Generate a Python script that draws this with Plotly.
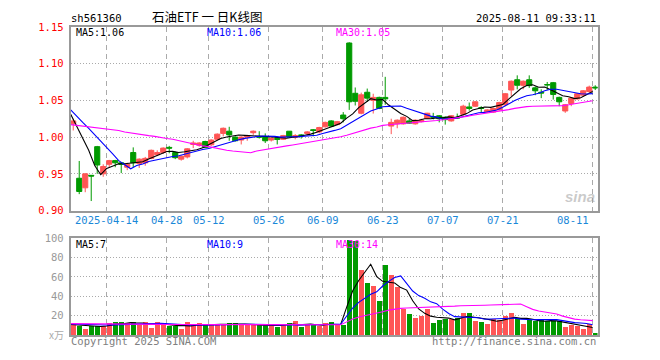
import plotly.graph_objects as go
import pandas as pd

# ---------------- data ----------------
opens = [1.018, 0.944, 0.931, 0.948, 0.987, 0.950, 0.963, 0.968, 0.965, 0.959,
         0.979, 0.964, 0.965, 0.971, 0.976, 0.979, 0.986, 0.979, 0.970, 0.973,
         0.990, 0.989, 0.994, 0.9895, 0.997, 1.005, 1.008, 1.000, 0.996, 1.000,
         1.006, 1.0005, 1.000, 0.996, 0.998, 0.997, 1.008, 1.000, 1.003, 1.005,
         1.010, 1.007, 1.014, 1.022, 1.017, 1.030, 1.128, 1.0596, 1.0325, 1.061,
         1.050, 1.054, 1.054, 1.015, 1.018, 1.018, 1.022, 1.018, 1.021, 1.0255,
         1.028, 1.029, 1.027, 1.022, 1.027, 1.031, 1.041, 1.042, 1.040, 1.034,
         1.034, 1.037, 1.044, 1.064, 1.078, 1.0705, 1.078, 1.067, 1.061, 1.0715,
         1.074, 1.054, 1.0355, 1.0456, 1.052, 1.057, 1.062, 1.068]
closes = [1.022, 0.926, 0.950, 0.947, 0.962, 0.960, 0.968, 0.965, 0.963, 0.963,
          0.965, 0.970, 0.971, 0.982, 0.979, 0.985, 0.985, 0.972, 0.974, 0.984,
          0.992, 0.992, 0.986, 0.996, 1.004, 1.012, 1.003, 0.995, 1.000, 1.002,
          1.008, 1.000, 0.995, 0.998, 0.997, 1.002, 1.000, 1.002, 1.002, 1.007,
          1.009, 1.013, 1.020, 1.015, 1.021, 1.025, 1.048, 1.0487, 1.0575, 1.053,
          1.054, 1.039, 1.052, 1.020, 1.023, 1.027, 1.019, 1.023, 1.023, 1.0325,
          1.027, 1.025, 1.0237, 1.029, 1.026, 1.042, 1.039, 1.048, 1.039, 1.037,
          1.039, 1.047, 1.059, 1.076, 1.0705, 1.076, 1.070, 1.063, 1.060, 1.071,
          1.058, 1.048, 1.044, 1.053, 1.059, 1.063, 1.068, 1.067]
highs = [1.025, 0.9675, 0.951, 0.948, 0.988, 0.963, 0.969, 0.969, 0.966, 0.965,
         0.986, 0.971, 0.973, 0.983, 0.982, 0.986, 0.988, 0.980, 0.975, 0.985,
         0.995, 0.993, 0.995, 0.997, 1.005, 1.013, 1.014, 1.001, 1.001, 1.003,
         1.009, 1.008, 1.005, 1.000, 1.000, 1.003, 1.008, 1.004, 1.004, 1.008,
         1.011, 1.014, 1.021, 1.023, 1.022, 1.034, 1.129, 1.0675, 1.0605, 1.066,
         1.059, 1.055, 1.082, 1.025, 1.024, 1.028, 1.025, 1.024, 1.025, 1.033,
         1.033, 1.030, 1.028, 1.030, 1.032, 1.044, 1.047, 1.049, 1.042, 1.038,
         1.040, 1.048, 1.060, 1.077, 1.084, 1.077, 1.084, 1.069, 1.065, 1.075,
         1.075, 1.055, 1.045, 1.054, 1.060, 1.064, 1.070, 1.0705]
lows = [1.009, 0.9224, 0.925, 0.913, 0.950, 0.946, 0.959, 0.959, 0.951, 0.955,
        0.959, 0.958, 0.961, 0.970, 0.974, 0.977, 0.978, 0.970, 0.968, 0.971,
        0.985, 0.987, 0.985, 0.988, 0.996, 1.001, 0.995, 0.994, 0.990, 0.995,
        1.003, 0.998, 0.992, 0.994, 0.990, 0.996, 0.999, 0.997, 0.998, 1.002,
        1.001, 1.005, 1.013, 1.014, 1.016, 1.020, 1.037, 1.043, 1.031, 1.048,
        1.032, 1.038, 1.044, 1.004, 1.012, 1.017, 1.018, 1.017, 1.020, 1.025,
        1.024, 1.020, 1.017, 1.021, 1.025, 1.029, 1.036, 1.041, 1.033, 1.033,
        1.033, 1.036, 1.042, 1.056, 1.065, 1.065, 1.067, 1.057, 1.053, 1.064,
        1.051, 1.042, 1.033, 1.042, 1.051, 1.055, 1.060, 1.064]
volumes = [11.5, 9.5, 6.5, 9.5, 9.5, 9.5, 12.2, 13.2, 13.5, 11.8,
           13.5, 10.5, 13.5, 7.5, 13.5, 11.5, 8.8, 8.8, 6.5, 13.5,
           9.8, 12.5, 9.8, 11.2, 11.2, 10.5, 12.5, 12.5, 10.5, 10.5,
           10.2, 10.2, 10.2, 11.5, 7.8, 9.8, 12.5, 14.8, 7.8, 10.2,
           11.5, 8.8, 12.2, 13.5, 10.2, 10.2, 98, 97, 66.5, 53.5,
           50.5, 34.5, 72.5, 61.8, 49.5, 26.8, 21.5, 17.5, 19.5, 26.8,
           12.5, 15.5, 16.5, 16.5, 17.5, 22.5, 22.5, 14.5, 13.5, 11.5,
           16.5, 15.5, 19.5, 22.5, 17.5, 11.5, 15.5, 14.5, 15.5, 14.5,
           14.5, 14.5, 8.5, 10.5, 9.5, 6.5, 11.5, 1.5]

# moving-average values at the left edge (history before the window)
ma5_head = [1.031, 1.015, 0.998, 0.982]
ma10_head = [1.037, 1.028, 1.020, 1.012, 1.0035, 0.995, 0.986, 0.977, 0.968]
ma30_head = [1.017, 1.016, 1.015, 1.014, 1.013, 1.012, 1.011, 1.010, 1.009, 1.007,
             1.006, 1.005, 1.004, 1.002, 1.001, 0.999, 0.998, 0.997, 0.995, 0.994,
             0.992, 0.990, 0.988, 0.987, 0.985, 0.984, 0.982, 0.981, 0.980]
vma5_head = [11.0, 10.5, 9.8, 9.3]
vma10_head = [11.5, 11.2, 10.9, 10.6, 10.4, 10.3, 10.4, 10.5, 10.6]
vma30_head = [11.8, 11.8, 11.7, 11.7, 11.6, 11.6, 11.5, 11.5, 11.4, 11.4,
              11.3, 11.3, 11.2, 11.2, 11.1, 11.1, 11.0, 11.0, 11.0, 10.9,
              10.9, 10.9, 10.8, 10.8, 10.8, 10.8, 10.8, 10.8, 10.8]

tick_pos = [6, 16, 23, 33, 42, 52, 62, 72, 87]
tick_labels = ["2025-04-14", "04-28", "05-12", "05-26", "06-09",
               "06-23", "07-07", "07-21", "08-11"]
price_ticks = [0.90, 0.95, 1.00, 1.05, 1.10, 1.15]
vol_ticks = [20, 40, 60, 80, 100]

# ---------------- helpers ----------------
# the page body has an 8px margin, so the figure is drawn 8px in from the corner
OFF = 8
W, H = 644, 344
def px(x):
    return (x - OFF) / W
def py(y):
    return 1 - (y - OFF) / H

def ma(values, n, head):
    s = pd.Series(values, dtype=float).rolling(n).mean()
    s.iloc[:len(head)] = head
    return s.tolist()

idx = list(range(len(closes)))
cx = [i + 0.42 for i in idx]          # candle centres (slightly right of grid point)
RED, GREEN = "#ff5555", "#009a00"
MONO = "DejaVu Sans Mono"

ma5 = ma(closes, 5, ma5_head)
ma10 = ma(closes, 10, ma10_head)
ma30 = ma(closes, 30, ma30_head)
vma5 = ma(volumes, 5, vma5_head)
vma10 = ma(volumes, 10, vma10_head)
vma30 = ma(volumes, 30, vma30_head)

fig = go.Figure()

fig.add_trace(go.Candlestick(
    x=cx, open=opens, high=highs, low=lows, close=closes,
    increasing=dict(line=dict(color=RED, width=1), fillcolor=RED),
    decreasing=dict(line=dict(color=GREEN, width=1), fillcolor=GREEN),
    whiskerwidth=0, xaxis="x", yaxis="y", hoverinfo="skip"))

for vals, col in [(ma5, "#000000"), (ma10, "#0000ff"), (ma30, "#ff00ff")]:
    fig.add_trace(go.Scatter(x=idx, y=vals, mode="lines",
                             line=dict(color=col, width=1.1),
                             xaxis="x", yaxis="y", hoverinfo="skip"))

bar_colors = [RED if c >= o else GREEN for o, c in zip(opens, closes)]
fig.add_trace(go.Bar(x=cx, y=volumes, width=0.83, marker=dict(color=bar_colors, line=dict(width=0)),
                     xaxis="x2", yaxis="y2", hoverinfo="skip"))
for vals, col in [(vma5, "#000000"), (vma10, "#0000ff"), (vma30, "#ff00ff")]:
    fig.add_trace(go.Scatter(x=idx, y=vals, mode="lines",
                             line=dict(color=col, width=1.1),
                             xaxis="x2", yaxis="y2", hoverinfo="skip"))

xdom = [px(70.7), px(597.5)]
xr = [0, 87.8]
common_x = dict(domain=xdom, range=xr, tickvals=tick_pos, showticklabels=False,
                ticks="", showgrid=True, gridcolor="#aaaaaa", griddash="5px,4px",
                gridwidth=1, showline=True, mirror=True, linecolor="#999999",
                linewidth=2, zeroline=False, fixedrange=True)

fig.update_layout(
    width=W, height=H, margin=dict(l=0, r=0, t=0, b=0),
    paper_bgcolor="white", plot_bgcolor="white", showlegend=False,
    boxgap=0.1, boxgroupgap=0.05, bargap=0,
    xaxis=dict(**common_x, anchor="y", rangeslider=dict(visible=False)),
    xaxis2=dict(**common_x, anchor="y2", matches="x"),
    yaxis=dict(domain=[py(211.7), py(21.3)], range=[0.90, 1.15], tickvals=price_ticks,
               ticktext=[f"{v:.2f}" for v in price_ticks],
               tickfont=dict(family=MONO, size=10.5, color="#ff0000"),
               showgrid=True, gridcolor="#aaaaaa", griddash="1px,2px", gridwidth=1,
               showline=True, mirror=True, linecolor="#999999", linewidth=2,
               zeroline=False, ticks="", ticklabelstandoff=3),
    yaxis2=dict(domain=[py(340.7), py(240.3)], range=[0, 100], tickvals=vol_ticks,
                ticktext=[str(v) for v in vol_ticks],
                tickfont=dict(family=MONO, size=10.5, color="#999999"),
                showgrid=True, gridcolor="#aaaaaa", griddash="1px,2px", gridwidth=1,
                showline=True, mirror=True, linecolor="#999999", linewidth=2,
                zeroline=False, ticks="", ticklabelstandoff=3),
)

ann = []
def text(x, y, s, color="#000000", size=10.5, family=MONO, xanchor="left", **kw):
    ann.append(dict(x=x, y=y, xref="paper", yref="paper", text=s, showarrow=False,
                    xanchor=xanchor, yanchor="middle",
                    font=dict(family=family, size=size, color=color), **kw))

# header
text(px(69), py(12), "sh561360")
text(px(150), py(11), "石油ETF 一 日K线图", size=12.5, family="Noto Sans CJK SC")
text(px(598), py(12), "2025-08-11 09:33:11", xanchor="right")
# MA legends (price)
text(px(74), py(27), f"MA5:{ma5[-1]:.2f}", "#000000", size=10)
text(px(204.5), py(27), f"MA10:{ma10[-1]:.2f}", "#0000ff", size=10)
text(px(334), py(27), f"MA30:{ma30[-1]:.2f}", "#ff00ff", size=10)
# MA legends (volume)
text(px(74), py(246.5), "MA5:7", "#000000", size=10)
text(px(204.5), py(246.5), "MA10:9", "#0000ff", size=10)
text(px(334), py(246.5), "MA30:14", "#ff00ff", size=10)
# footer
text(px(69), py(346.5), "Copyright 2025 SINA.COM", "#808080")
text(px(598), py(346.5), "http://finance.sina.com.cn", "#808080", xanchor="right")
text(px(66), py(340.5), "x万", "#aaaaaa", size=10, family="Noto Sans CJK SC", xanchor="right")
# watermark
text(px(597), py(197), "<b><i>sina</i></b>", "rgba(150,150,150,0.5)", size=15,
     family="Liberation Sans", xanchor="right")

# x tick labels (last one kept inside the chart, as in the original)
for i, (p, lab) in enumerate(zip(tick_pos, tick_labels)):
    last = i == len(tick_pos) - 1
    ann.append(dict(x=p, y=py(221.5), xref="x", yref="paper", text=lab, showarrow=False,
                    xanchor="right" if last else "center", yanchor="middle",
                    xshift=-2 if last else 0,
                    font=dict(family=MONO, size=10.5, color="#1a88d8")))

fig.update_layout(annotations=ann)
fig.write_html("out.html")
